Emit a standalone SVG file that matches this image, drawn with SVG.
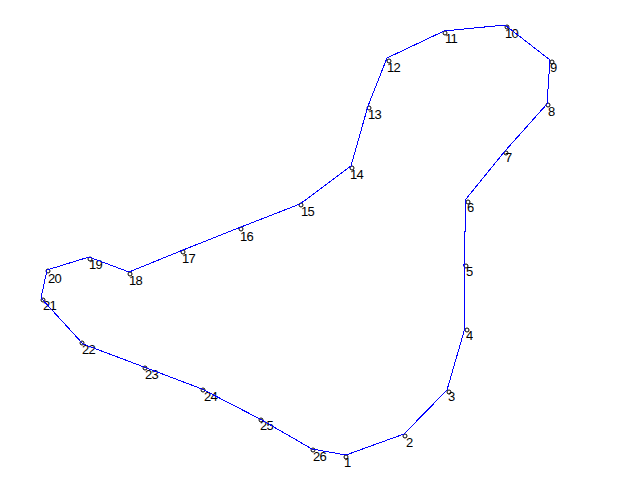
<svg xmlns="http://www.w3.org/2000/svg" width="640" height="480" viewBox="0 0 640 480">
<style>
text{font-family:"Liberation Sans",Arial,sans-serif;font-size:13px;letter-spacing:-0.7px;fill:#000;opacity:.999}
circle{fill:none;stroke:#000;stroke-width:1}
#connectors polyline{fill:none;stroke:#0000ff;stroke-width:1;shape-rendering:crispEdges}
</style>
<rect width="640" height="480" fill="#fff"/>
<g id="n1"><circle cx="346" cy="457" r="2"/><text x="344" y="467">1</text></g>
<g id="n2"><circle cx="405" cy="436" r="2"/><text x="406" y="447">2</text></g>
<g id="n3"><circle cx="449" cy="392" r="2"/><text x="448" y="401">3</text></g>
<g id="n4"><circle cx="467" cy="330" r="2"/><text x="466" y="340">4</text></g>
<g id="n5"><circle cx="466" cy="266" r="2"/><text x="466" y="276">5</text></g>
<g id="n6"><circle cx="468" cy="202" r="2"/><text x="467" y="212">6</text></g>
<g id="n7"><circle cx="506" cy="153" r="2"/><text x="505" y="162">7</text></g>
<g id="n8"><circle cx="548" cy="105" r="2"/><text x="548" y="116">8</text></g>
<g id="n9"><circle cx="552" cy="62" r="2"/><text x="550" y="72">9</text></g>
<g id="n10"><circle cx="507" cy="27" r="2"/><text x="505" y="38">10</text></g>
<g id="n11"><circle cx="445" cy="33" r="2"/><text x="445" y="43">11</text></g>
<g id="n12"><circle cx="389" cy="61" r="2"/><text x="387" y="72">12</text></g>
<g id="n13"><circle cx="369" cy="108" r="2"/><text x="368" y="119">13</text></g>
<g id="n14"><circle cx="352" cy="168" r="2"/><text x="350" y="179">14</text></g>
<g id="n15"><circle cx="301" cy="205" r="2"/><text x="301" y="216">15</text></g>
<g id="n16"><circle cx="241" cy="229" r="2"/><text x="240" y="241">16</text></g>
<g id="n17"><circle cx="183" cy="252" r="2"/><text x="182" y="263">17</text></g>
<g id="n18"><circle cx="130" cy="274" r="2"/><text x="129" y="285">18</text></g>
<g id="n19"><circle cx="90" cy="259" r="2"/><text x="89" y="269">19</text></g>
<g id="n20"><circle cx="48" cy="271" r="2"/><text x="48" y="283">20</text></g>
<g id="n21"><circle cx="43" cy="300" r="2"/><text x="43" y="310">21</text></g>
<g id="n22"><circle cx="82" cy="343" r="2"/><text x="82" y="354">22</text></g>
<g id="n23"><circle cx="145" cy="368" r="2"/><text x="145" y="379">23</text></g>
<g id="n24"><circle cx="203" cy="390" r="2"/><text x="204" y="401">24</text></g>
<g id="n25"><circle cx="261" cy="420" r="2"/><text x="260" y="430">25</text></g>
<g id="n26"><circle cx="313" cy="450" r="2"/><text x="313" y="461">26</text></g>
<g id="connectors"><polyline points="346,455 404,434 447,390 465,328 464,265 466,199 505,151 547,104 550,60 505,25 444,31 387,58 368,106 351,166 300,204 241,227 183,250 129,272 89,257 47,270 41,298 83,344 144,367 202,389 260,419 312,449 346,455"/></g>
</svg>
